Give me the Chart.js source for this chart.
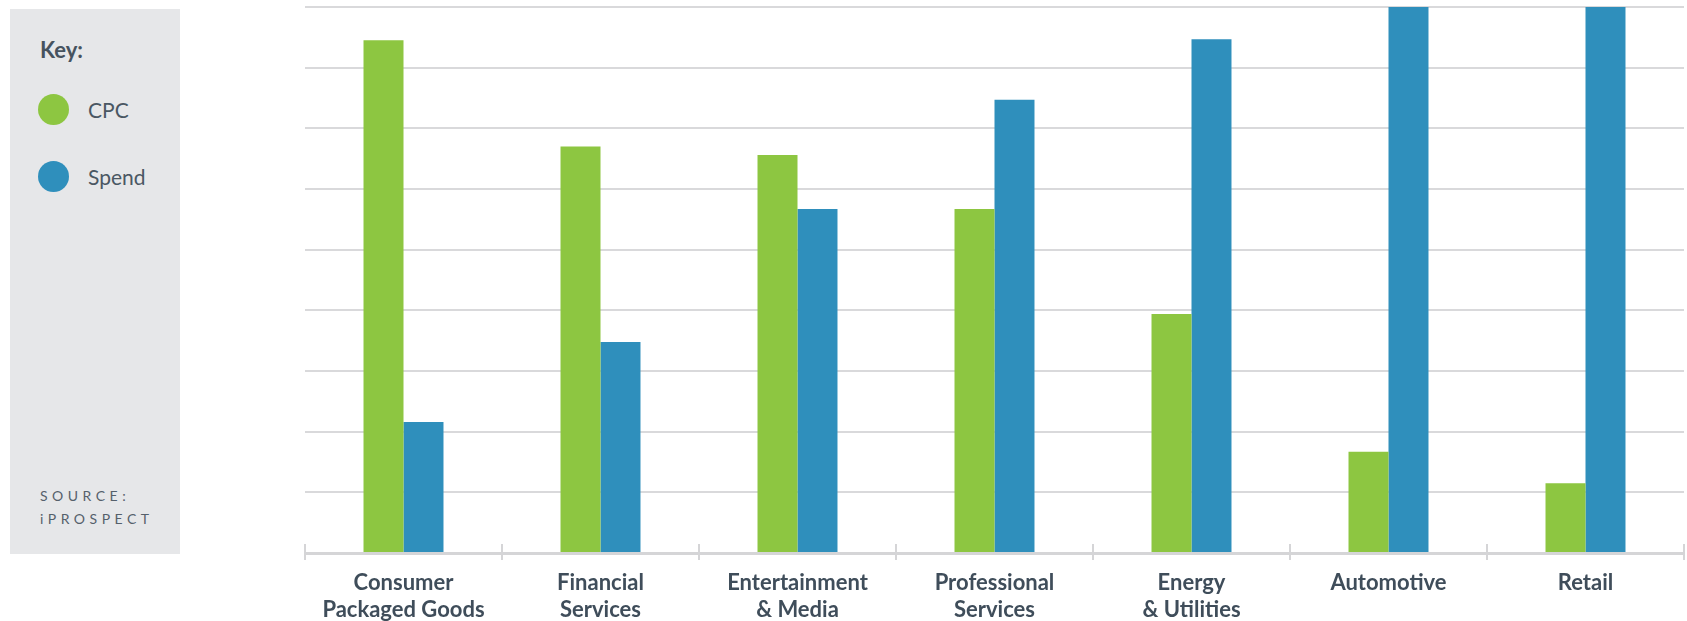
<!DOCTYPE html>
<html>
<head>
<meta charset="utf-8">
<script src="https://cdn.jsdelivr.net/npm/chart.js@4"></script>
<style>
  html, body { margin: 0; padding: 0; background: #fff; }
  body { width: 1687px; height: 621px; position: relative; overflow: hidden; font-family: Lato, sans-serif; color: #4a5763; }
  #wrap { position: absolute; left: 0; top: 0; width: 1687px; height: 621px; }
  .key { position: absolute; left: 10px; top: 9px; width: 170px; height: 545px; background: #e6e7e9; }
  .key h4 { position: absolute; left: 30px; top: 27px; margin: 0; font-size: 22px; font-weight: 700; color: #46535f; }
  .key .item { position: absolute; left: 28px; height: 32px; display: flex; align-items: center; font-size: 21px; color: #4a5763; }
  .key .dot { width: 31px; height: 31px; border-radius: 50%; margin-right: 19px; }
  .key .src { position: absolute; left: 30px; top: 475px; font-size: 14px; letter-spacing: 4.5px; line-height: 23px; color: #55606b; }
</style>
</head>
<body>
<div id="wrap"><canvas id="chart"></canvas></div>
<div class="key">
  <h4>Key:</h4>
  <div class="item" style="top:84px"><span class="dot" style="background:#8dc641"></span>CPC</div>
  <div class="item" style="top:151px"><span class="dot" style="background:#2f8fbc"></span>Spend</div>
  <div class="src">SOURCE:<br>iPROSPECT</div>
</div>
<script>
const categories = [
  ['Consumer', 'Packaged Goods'],
  ['Financial', 'Services'],
  ['Entertainment', '& Media'],
  ['Professional', 'Services'],
  ['Energy', '& Utilities'],
  'Automotive',
  'Retail'
];
const cpc = [8.45, 6.7, 6.56, 5.67, 3.94, 1.67, 1.15];
const spend = [2.16, 3.48, 5.67, 7.47, 8.47, 9, 9];

// small tick marks straddling the x axis at category boundaries
const axisTicks = {
  id: 'axisTicks',
  afterDraw(chart) {
    const x = chart.scales.x;
    const y0 = chart.scales.y.getPixelForValue(0);
    const step = x.getPixelForValue(1) - x.getPixelForValue(0);
    const ctx = chart.ctx;
    ctx.save();
    ctx.strokeStyle = '#d5d5d7';
    ctx.lineWidth = 2;
    ctx.beginPath();
    for (let i = 0; i <= categories.length; i++) {
      const px = Math.round(x.getPixelForValue(i) - step / 2);
      ctx.moveTo(px, y0 - 9);
      ctx.lineTo(px, y0 + 7);
    }
    ctx.stroke();
    ctx.restore();
  }
};

const chart = new Chart(document.getElementById('chart'), {
  type: 'bar',
  data: {
    labels: categories,
    datasets: [{
      label: 'CPC',
      data: cpc,
      backgroundColor: '#8dc641'
    }, {
      label: 'Spend',
      data: spend,
      backgroundColor: '#2f8fbc'
    }]
  },
  options: {
    responsive: true,
    maintainAspectRatio: false,
    animation: false,
    categoryPercentage: 0.406,
    barPercentage: 1,
    layout: { padding: { left: 305, right: 3, top: 7, bottom: 0 } },
    plugins: {
      legend: { display: false },
      tooltip: { enabled: false }
    },
    scales: {
      x: {
        afterFit(scale) { scale.height = 68; },
        grid: { display: false },
        border: { display: true, color: '#d5d5d7', width: 3 },
        ticks: {
          padding: 9,
          color: '#3f4d5a',
          font: { family: 'Lato', weight: 'bold', size: 22, lineHeight: 1.2 },
          maxRotation: 0,
          autoSkip: false
        }
      },
      y: {
        min: 0,
        max: 9,
        ticks: { display: false, stepSize: 1 },
        border: { display: false },
        grid: { color: '#d9d9db', lineWidth: 2, drawTicks: false }
      }
    }
  },
  plugins: [axisTicks]
});
</script>
</body>
</html>
